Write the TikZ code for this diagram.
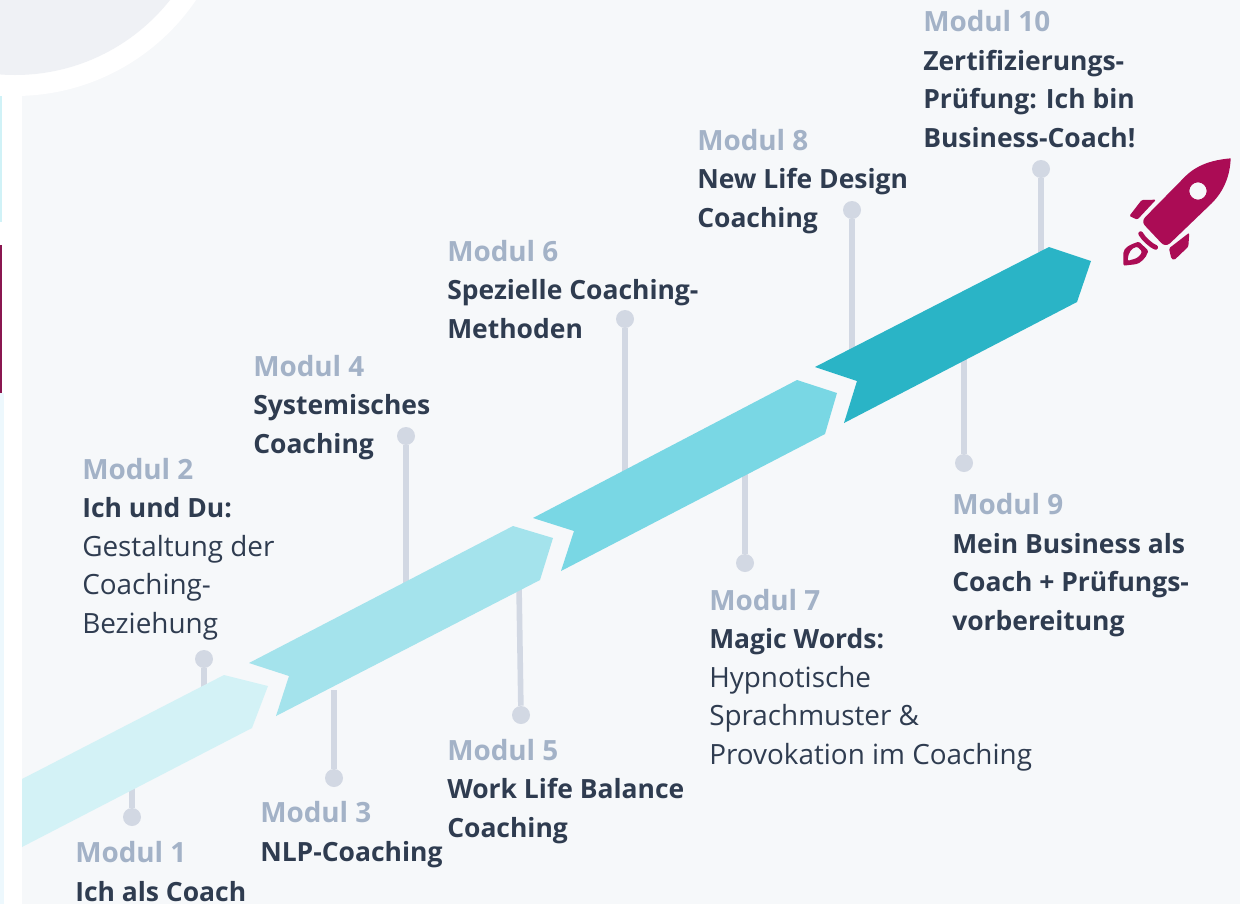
\documentclass[tikz,border=0pt]{standalone}
\usepackage{fontspec}
\setmainfont{Open Sans}
\definecolor{pagebg}{HTML}{F6F8FA}
\definecolor{discgrey}{HTML}{EFF1F5}
\definecolor{stripcyan}{HTML}{D0F2F7}
\definecolor{stripwine}{HTML}{8A1650}
\definecolor{stripblue}{HTML}{EDF8FD}
\definecolor{pingrey}{HTML}{D2D8E3}
\definecolor{modgrey}{HTML}{A3B2C7}
\definecolor{textdark}{HTML}{2F3C50}
\definecolor{arrowa}{HTML}{D3F2F6}
\definecolor{arrowb}{HTML}{A4E3EC}
\definecolor{arrowc}{HTML}{79D7E4}
\definecolor{arrowd}{HTML}{2AB4C6}
\definecolor{rocketred}{HTML}{AB0C55}
\tikzset{
	pindot/.style={circle,fill=pingrey,minimum size=13.5pt,inner sep=0pt},
	pinline/.style={draw=pingrey,line width=4.2pt},
	modtext/.style={anchor=base west,inner sep=0pt,align=left,text=textdark,font=\fontsize{19.85}{28.8}\selectfont},
}
\newcommand{\modname}[1]{{\fontsize{20.9}{28.8}\selectfont\textcolor{modgrey}{\textbf{#1}}}}
\newcommand{\modplain}[1]{{\fontsize{20.9}{28.8}\selectfont #1}}
\begin{document}
\begin{tikzpicture}[x=0.75pt,y=-0.75pt]
	\useasboundingbox (0,0) rectangle (1240,904);
	% Hintergrund
	\fill [pagebg] (0,0) rectangle (1240,904);
	\fill [white] (0,0) rectangle (22,904);
	\fill [stripcyan] (0,96) rectangle (2,222);
	\fill [stripwine] (0,245) rectangle (2,393);
	\fill [stripblue] (0,393) rectangle (4,904);
	% Scheibe oben links
	\begin{scope}
		\clip (0,0) rectangle (1240,904);
		\fill [white] (15,-122.7) circle [radius=218.7];
		\fill [discgrey] (15,-122.7) circle [radius=197.7];
	\end{scope}
	% Stifte
	\foreach \n/\x/\y/\fx/\fy in {1/132/817/132/785,2/204/659/204/695,3/334/778/334/690,4/406/436/406/590,5/521/715/519/585,6/625/319/625/480,7/745/563/745/470,8/852/210/852/360,9/964/463/964/350,10/1041/169/1041/255} {
		\node [pindot] (dot\n) at (\x,\y) {};
		\coordinate (foot\n) at (\fx,\fy);
		\draw [pinline] (dot\n) -- (foot\n);
	}
	% Pfeile
	\fill [arrowa] (22,779) -- (224,675) -- (268,686) -- (252,728) -- (22,847) -- cycle;
	\fill [arrowb] (249,663) -- (513,526) -- (553,538) -- (540,580) -- (276,716) -- (289,676) -- cycle;
	\fill [arrowc] (533,518) -- (797,380) -- (837,393) -- (825,434) -- (561,571) -- (574,531) -- cycle;
	\fill [arrowd] (815,367) -- (1049,247) -- (1091,261) -- (1077,302) -- (844,423) -- (857,381) -- cycle;
	% Rakete
	\begin{scope}[shift={(1080,130)},scale=1/3]
		\fill [rocketred,even odd rule] (452,85) .. controls (395,90) and (350,105) .. (315,140) -- (195,262) .. controls (188,270) and (188,280) .. (195,287) -- (243,338) .. controls (250,346) and (260,348) .. (270,340) -- (395,220) .. controls (430,185) and (450,140) .. (452,85) -- cycle (354,183) circle [radius=26];
		\fill [rocketred,rounded corners=1pt] (185,210) -- (228,209) -- (172,269) -- (148,258) -- cycle;
		\fill [rocketred,rounded corners=1pt] (328,308) -- (325,350) -- (283,390) -- (274,386) -- (267,355) -- cycle;
		\draw [rocketred,line width=3.6pt,line cap=round] (182,311) .. controls (190,325) and (210,345) .. (227,352);
		\fill [rocketred,even odd rule,rounded corners=1pt] (130,407) -- (130,372) .. controls (132,355) and (145,345) .. (177,335) -- (205,362) .. controls (198,385) and (180,400) .. (165,403) -- cycle (143,393) -- (158,388) .. controls (172,385) and (182,375) .. (186,364) -- (172,350) .. controls (155,355) and (145,365) .. (143,393) -- cycle;
	\end{scope}
	% Texte
	\node [modtext] (mod1) at (75,901) {\modname{Modul 1}\\\textbf{Ich als Coach}};
	\node [modtext] (mod2) at (82,633) {\modname{Modul 2}\\\textbf{Ich und Du:}\\\modplain{Gestaltung der}\\\modplain{Coaching-}\\\modplain{Beziehung}};
	\node [modtext] (mod3) at (260,861) {\modname{Modul 3}\\\textbf{NLP-Coaching}};
	\node [modtext] (mod4) at (253,453) {\modname{Modul 4}\\\textbf{Systemisches}\\\textbf{Coaching}};
	\node [modtext] (mod5) at (447,837) {\modname{Modul 5}\\\textbf{Work Life Balance}\\\textbf{Coaching}};
	\node [modtext] (mod6) at (447,338) {\modname{Modul 6}\\\textbf{Spezielle Coaching-}\\\textbf{Methoden}};
	\node [modtext] (mod7) at (709,764) {\modname{Modul 7}\\\textbf{Magic Words:}\\\modplain{Hypnotische}\\\modplain{Sprachmuster \&}\\\modplain{Provokation im Coaching}};
	\node [modtext] (mod8) at (697,227) {\modname{Modul 8}\\\textbf{New Life Design}\\\textbf{Coaching}};
	\node [modtext] (mod9) at (952,630) {\modname{Modul 9}\\\textbf{Mein Business als}\\\textbf{Coach + Prüfungs-}\\\textbf{vorbereitung}};
	\node [modtext] (mod10) at (923,147) {\modname{Modul 10}\\\textbf{Zertifizierungs-}\\\textbf{Prüfung: Ich bin}\\\textbf{Business-Coach!}};
\end{tikzpicture}
\end{document}
